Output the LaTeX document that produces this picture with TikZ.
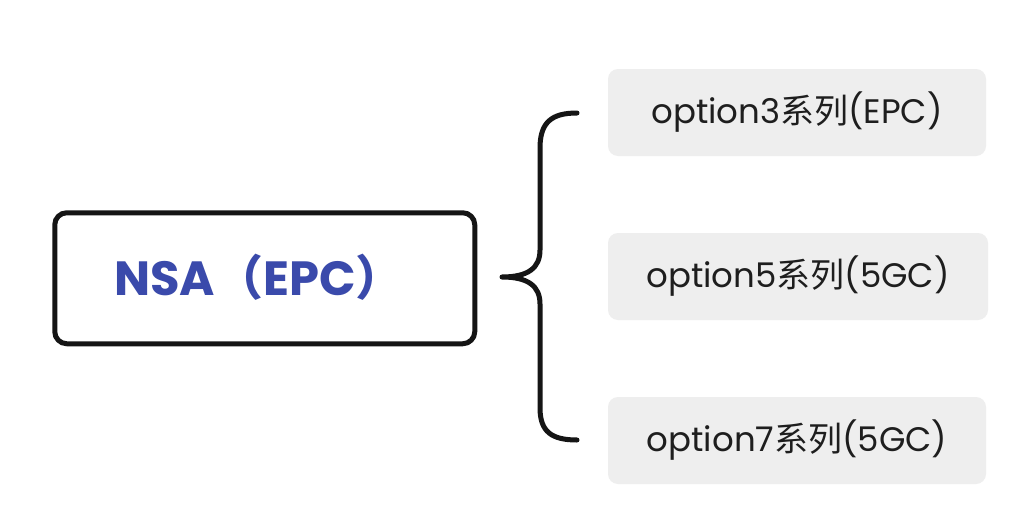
\documentclass[tikz,border=0pt]{standalone}
\usepackage{fontspec}
\setmainfont{Poppins}
\newfontfamily\cjk{Noto Sans CJK SC}
\usetikzlibrary{positioning}
\definecolor{nsaBlue}{HTML}{3A4AAB}
\definecolor{nsaInk}{HTML}{151515}
\definecolor{optGrey}{HTML}{EEEEEE}
\definecolor{optText}{HTML}{1E1E1E}

\begin{document}
\begin{tikzpicture}[x=1pt,y=-1pt,line cap=round,line join=round]
\path[fill=white,use as bounding box] (0,0) rectangle (1028,522);
\tikzset{mainbox/.style={draw=nsaInk,fill=white,line width=5pt,rounded corners=12pt,minimum width=420pt,minimum height=131pt,inner sep=0pt},
  optbox/.style={fill=optGrey,rounded corners=10pt,minimum width=378pt,minimum height=87pt,inner sep=0pt,text=optText,font=\fontsize{34}{40}\selectfont},
  brace/.style={draw=nsaInk,line width=5pt}}
% left node
\node[mainbox] (nsa) at (264.75,278.25) {};
\node[anchor=west,inner sep=0pt,text=nsaBlue,font=\fontsize{48}{56}\selectfont\bfseries] (nsaText) at (114,277) {NSA{\cjk（}EPC{\cjk）}};
% option nodes
\node[optbox] (opt3) at (797,112.5) {option3{\cjk 系列}(EPC)};
\node[optbox,minimum width=380pt] (opt5) at (798,276.5) {option5{\cjk 系列}(5GC)};
\node[optbox] (opt7) at (797,440.5) {option7{\cjk 系列}(5GC)};
% brace
\coordinate (braceTop) at (577,113);
\coordinate (braceTip) at (502,277);
\coordinate (braceBot) at (577,440);
\draw[brace] (braceTop) .. controls (552,113) and (540,122) .. (540,148) -- (540,250)
  .. controls (540,268) and (528,277) .. (braceTip)
  .. controls (528,277) and (540,286) .. (540,304) -- (540,408)
  .. controls (540,432) and (552,440) .. (braceBot);
\end{tikzpicture}
\end{document}
